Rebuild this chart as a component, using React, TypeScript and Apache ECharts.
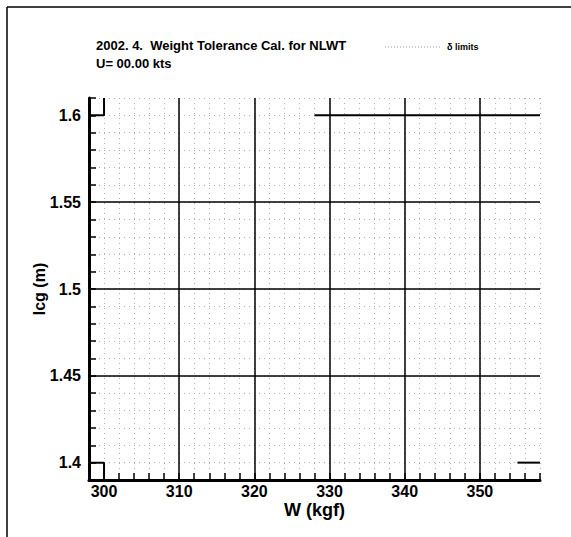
import React, { useEffect, useRef } from "react";
import * as echarts from "echarts";

// Axis extents and tick spacing
const wMin = 298;
const wMax = 358;
const wStep = 2;
const lcgMin = 1.39;
const lcgMax = 1.61;
const lcgStep = 0.01;

// Major reference lines
const majorW = [310, 320, 330, 340, 350];
const majorLcg = [1.45, 1.5, 1.55];

// Limit line pieces (W, lcg)
const limitTopLeft = [[300, 1.61], [300, 1.6], [298, 1.6]];
const limitBottomLeft = [[298, 1.4], [300, 1.4], [300, 1.39]];
const limitTopRight = [[328, 1.6], [358, 1.6]];
const limitBottomRight = [[355, 1.4], [358, 1.4]];

const titleText = "2002. 4.  Weight Tolerance Cal. for NLWT";
const subText = "U= 00.00 kts";
const legendText = "δ limits";
const xName = "W (kgf)";
const yName = "lcg (m)";

const FONT = "'Liberation Sans', Arial, Helvetica, sans-serif";

export default function App() {
  const ref = useRef<HTMLDivElement>(null);
  useEffect(() => {
    if (!ref.current) return;
    const chart = echarts.init(ref.current, undefined, { renderer: "svg" });
    const limitStyle = { color: "#000", width: 2 };
    const mkLimit = (name: string, data: number[][]) => ({
      name,
      type: "line",
      data,
      symbol: "none",
      lineStyle: limitStyle,
      silent: true,
      z: 5,
    });
    chart.setOption({
      animation: false,
      backgroundColor: "#fff",
      textStyle: { fontFamily: FONT },
      title: [
        {
          text: titleText,
          left: 91,
          top: 34,
          textStyle: { fontFamily: FONT, fontSize: 13, fontWeight: "bold", color: "#000" },
        },
        {
          text: subText,
          left: 91,
          top: 52,
          textStyle: { fontFamily: FONT, fontSize: 13, fontWeight: "bold", color: "#000" },
        },
      ],
      grid: { left: 89, right: 31, top: 98, bottom: 57, containLabel: false },
      xAxis: {
        type: "value",
        min: wMin,
        max: wMax,
        interval: wStep,
        name: xName,
        nameLocation: "middle",
        nameGap: 21,
        nameMoveOverlap: false,
        nameTextStyle: { fontFamily: FONT, fontSize: 18, fontWeight: "bold", color: "#000" },
        axisLine: { show: true, onZero: false, lineStyle: { color: "#000", width: 3 } },
        axisTick: { show: true, inside: true, length: 7, lineStyle: { color: "#000", width: 1.5 } },
        axisLabel: {
          margin: 3,
          fontFamily: FONT,
          fontSize: 16,
          fontWeight: "bold",
          color: "#000",
          formatter: (v: number) => (Math.round(v) % 10 === 0 ? String(Math.round(v)) : ""),
        },
        splitLine: { show: true, lineStyle: { color: "#b0b0b0", width: 1, type: [1, 4] } },
      },
      yAxis: {
        type: "value",
        min: lcgMin,
        max: lcgMax,
        interval: lcgStep,
        name: yName,
        nameLocation: "middle",
        nameGap: 42,
        nameMoveOverlap: false,
        nameTextStyle: { fontFamily: FONT, fontSize: 16, fontWeight: "bold", color: "#000" },
        axisLine: { show: true, onZero: false, lineStyle: { color: "#000", width: 3 } },
        axisTick: { show: true, inside: true, length: 7, lineStyle: { color: "#000", width: 1.5 } },
        axisLabel: {
          margin: 8,
          fontFamily: FONT,
          fontSize: 16,
          fontWeight: "bold",
          color: "#000",
          formatter: (v: number) => {
            const k = Math.round(v * 100);
            return k % 5 === 0 ? String(k / 100) : "";
          },
        },
        splitLine: { show: true, lineStyle: { color: "#b0b0b0", width: 1, type: [1, 4] } },
      },
      series: [
        {
          ...mkLimit("limitTopLeft", limitTopLeft),
          markLine: {
            silent: true,
            symbol: ["none", "none"],
            label: { show: false },
            lineStyle: { color: "#000", width: 1.5, type: "solid" },
            data: [
              ...majorW.map((w) => ({ xAxis: w })),
              ...majorLcg.map((l) => ({ yAxis: l })),
            ],
          },
        },
        mkLimit("limitBottomLeft", limitBottomLeft),
        mkLimit("limitTopRight", limitTopRight),
        mkLimit("limitBottomRight", limitBottomRight),
      ],
      graphic: [
        { type: "line", shape: { x1: 7, y1: 7, x2: 571, y2: 7 }, style: { stroke: "#000", lineWidth: 1.5 } },
        { type: "line", shape: { x1: 7, y1: 7, x2: 7, y2: 537 }, style: { stroke: "#000", lineWidth: 1.5 } },
        {
          type: "line",
          shape: { x1: 385, y1: 47, x2: 440, y2: 47 },
          style: { stroke: "#999", lineWidth: 1, lineDash: [1, 2] },
        },
        {
          type: "text",
          x: 447,
          y: 47,
          style: {
            text: legendText,
            fontFamily: FONT,
            fontSize: 9,
            fontWeight: "bold",
            fill: "#000",
            verticalAlign: "middle",
          },
        },
      ],
    });
    return () => chart.dispose();
  }, []);
  return (
    <div
      ref={ref}
      style={{ position: "fixed", left: 0, top: 0, width: 571, height: 537, background: "#fff" }}
    />
  );
}
